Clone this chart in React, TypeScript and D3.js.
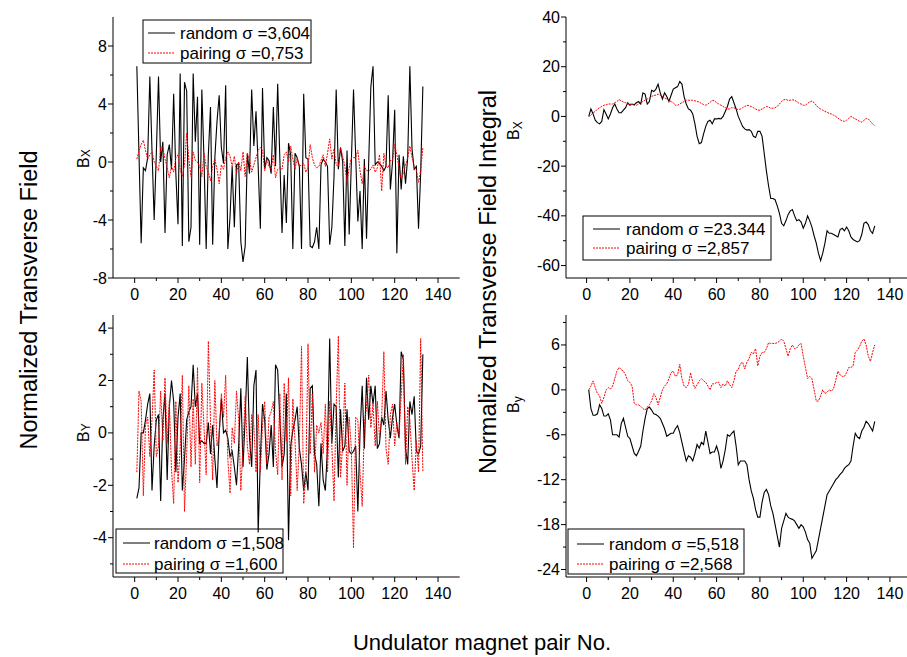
import React from "react";
import * as d3 from "d3";

const bxRandom = [6.6,0.5,-5.6,-0.4,-0.6,0.3,5.9,0.8,-4.0,0.6,
5.9,0.0,1.4,-4.9,0.5,1.2,-0.5,4.7,-0.8,-4.3,
6.1,-5.8,5.5,4.9,-5.5,-4.5,6.1,1.4,4.5,-5.7,
5.0,0.2,-6.0,0.5,3.8,-5.7,0.3,2.8,4.6,1.0,
-0.1,5.3,-6.0,-3.8,-0.3,-4.5,-0.2,-0.1,-5.5,-6.9,
-5.8,0.6,-0.8,5.0,1.1,3.5,-0.3,-4.6,5.1,-0.5,
0.3,0.1,-0.8,3.8,-0.3,5.4,0.2,-4.9,-0.9,-4.2,
1.3,0.5,-6.0,0.6,0.3,-0.3,-6.0,4.7,0.3,0.2,
-5.8,-5.9,-5.5,-4.5,-6.0,-0.2,0.2,0.0,-0.3,-5.7,
-4.5,-1.0,5.0,-0.5,1.0,0.0,-5.8,0.8,-5.0,0.0,
5.0,0.4,-4.1,-2.0,-6.0,0.2,-5.3,0.0,5.2,6.6,
-0.2,0.0,-0.1,-0.3,-0.6,-0.3,4.6,-1.9,0.0,3.6,
-6.3,0.5,-1.9,0.4,-1.5,0.3,6.6,0.9,-0.5,-0.3,
-4.6,-0.7,5.2];

const bxPairing = [0.2,0.8,1.2,1.5,0.8,0.2,0.5,0.7,0,-0.3,
-0.6,1.0,1.0,0.2,-0.4,-1.1,-0.3,-0.7,0.3,0.5,
-0.5,-1.0,-0.2,2.0,0.2,-1.0,0.7,0.1,0,-0.3,
-1.0,0.6,-0.3,-0.7,-1.3,-0.3,0.2,-0.5,-1.5,-0.2,
-0.5,0.3,0.7,0.4,-0.3,0.4,-0.8,0,-0.6,0.7,
-1.0,0.6,0.2,-0.7,-0.2,0.3,0.8,1.0,0.8,-0.6,
0.2,-0.3,-0.5,0.5,-1.1,-0.5,-0.4,-0.5,0.5,0.7,
0,1.1,0.2,-0.5,0.3,-0.3,-0.2,-0.1,-0.7,-0.4,
1.2,0.3,-0.2,-0.4,-0.3,0.1,0.5,-0.3,0.6,1.6,
0.2,0.9,-0.2,-0.3,1.0,0.4,-0.3,-1.4,-0.4,0.3,
0.3,0.3,0.8,-0.6,-1.5,-0.3,-0.6,-0.6,-0.5,-0.2,
-0.7,-0.4,0.5,-2.0,0.6,-0.3,-0.4,0.1,0.1,1.2,
0.5,-0.4,-1.2,-0.8,-0.2,0.3,1.1,0.3,-0.3,-0.6,
-1.4,-0.6,1.0];

const ixRandom = [0,3,1,-1.5,-2.5,-3,-2,2.7,1,-1,
1,3.5,5,3,1.5,1.5,2.5,3.5,5.5,4.5,
5,4.7,5.5,6,5,9.5,9,5,6,10.5,
10,11,13,9.5,7,9.5,8,6,8.5,11,
11.5,12,14,13,8,5,3,2.5,1,-3,
-8,-11,-10.5,-7,-4,-2,-1.5,-3,-1,-1,
-0.8,-1,0,2,4,7,8,5.5,3,0,
-2,-4,-5,-5.5,-5.3,-6,-8,-8.5,-6,-6,
-8,-15,-22,-28,-33,-33,-33.5,-36,-39,-43,
-44,-42,-39.5,-38,-37.5,-40,-42,-41.5,-42.5,-45,
-43,-40,-42,-44.5,-48,-51,-55,-58,-55,-51,
-46,-47,-47,-47.5,-48,-48.5,-45.5,-45,-46,-44.5,
-46,-48.5,-49.5,-50,-50.5,-50,-47.5,-43,-42.5,-43.5,
-46,-47,-44];

const ixPairing = [0,0.5,1.5,2,3,3.5,4,4.5,4.7,5,
5,5,5.5,6,6.8,6.2,5.8,5.5,5,5,
4.8,4.5,4.5,5,5.5,6,6.5,7,7.3,8,
8.5,8.5,9,8.5,8,7.5,7,6.5,6,5.5,
4.5,4.5,5,5.5,6,6.5,6.5,6.5,6.5,6.3,
6,5.8,5.2,4.8,4.5,5,5.7,6.5,6.3,5.5,
5,4.5,4,3.5,3,3,3.5,3.5,3,2.8,
3,3.5,4,4.5,4.3,4,3.5,3,2.5,2.5,
3,3.5,4,3.8,3.3,3.3,3.5,4,5,6,
6.7,6.8,6.5,6.5,6.7,6.5,6,5.3,5,4.5,
4.5,5.3,5.8,6.2,5.5,4.5,3.5,3,2.5,2,
1.7,1.2,1,0.5,0,-0.7,-1.3,-1.8,-2,-1.5,
-0.8,0,-0.5,-1,-1.5,-2,-2.3,-1.6,-0.8,-1,
-2,-3,-3.8];

const byRandom = [-2.5,-2.1,0,0,0.5,1.1,1.5,-2.2,-0.5,0.5,
0.7,-2.6,0.5,1.5,-1.8,1.0,2.0,1.2,-1.5,0.6,
1.5,-2.2,-1.0,0.5,0.8,1.0,2.6,1.0,1.5,-0.4,
-0.3,-0.4,-0.4,0.4,-0.8,0.3,-1.0,-2.1,0,1.3,
0,0.1,-0.2,-0.9,-0.7,-1.3,-2.0,-0.5,1.7,-1.3,
0.6,2.9,-0.2,-1.3,1.8,2.4,-3.8,-1.0,1.1,0.5,
-1.4,-0.8,0.3,-1.3,2.6,2.4,0.5,-1.3,-0.8,1.5,
-4.1,-0.5,0.1,0.5,1.0,-0.6,-1.2,-2.2,-1.5,-2.2,
1.7,1.8,-0.8,-1.2,-2.8,-0.4,-1.8,-2.2,-0.5,3.6,
-0.4,1.1,1.0,-1.7,0.9,-0.7,-0.5,0.9,-0.7,-0.8,
-0.7,-0.5,-3.0,0,1.8,-0.6,2.1,0.5,1.8,1.1,
1.8,-0.6,-0.4,0.6,0.3,1.6,0.5,-0.2,0.6,1.1,
0.3,-0.2,3.1,2.8,-0.6,-1.2,1.2,0.7,1.4,-0.7,
-0.8,-0.5,3.0];

const byPairing = [-1.5,1.6,1.2,-2.4,0.3,0.6,-0.9,0.5,2.4,-0.9,
-0.5,1.6,-0.3,2.1,-0.4,1.2,-1.4,-2.7,1.2,-1.9,
-0.6,2.2,-3.0,-0.8,1.8,-1.3,1.3,-1.2,2.5,-1.9,
1.9,0.2,-1.6,3.5,0.4,-1.8,2.0,-0.5,-0.1,1.5,
0.6,2.2,-1.0,-2.3,0.2,-0.4,1.6,0.5,-2.2,-0.5,
1.4,-0.5,-1.2,0.7,0.3,-1.5,0.7,-1.5,0.3,1.2,
-1.2,0.6,0.8,1.2,-0.7,-1.6,1.5,-1.8,1.9,-0.3,
2.1,-2.4,1.3,-0.3,-2.2,-0.4,3.3,-2.7,-1.6,3.4,
-0.8,1.5,-1.5,0.3,0,0.4,-0.8,1.1,-1.5,1.2,
-0.5,-2.6,1.0,3.7,-1.7,-0.4,1.9,-2.0,0.6,-0.6,
-4.4,0.6,0.5,-1.5,-2.8,0.3,1.0,2.2,0.2,1.1,
-0.5,1.2,-0.2,0.6,3.1,-0.6,-1.2,0.7,1.1,-0.5,
0.4,-0.1,1.4,3.0,-1.2,1.0,0.5,-1.0,-2.2,-0.3,
-1.5,3.6,-1.5];

const iyRandom = [0,-2.5,-3.4,-3.4,-3.2,-2.0,-2.5,-3.5,-3.5,-3.2,
-4.0,-6.0,-6.0,-6.0,-6.3,-4.5,-3.8,-5.0,-6.2,-6.5,
-7.5,-8.5,-8.8,-8.2,-7.5,-5.5,-3.8,-2.5,-2.3,-2.7,
-3.2,-3.3,-3.5,-3.8,-4.5,-5.2,-6.2,-6.0,-5.8,-5.8,
-5.2,-4.8,-5.7,-7.0,-8.3,-9.5,-8.8,-9.0,-9.5,-8.5,
-7.3,-7.8,-7.0,-7.3,-5.5,-7.0,-8.5,-8.3,-8.3,-7.5,
-8.5,-10.5,-9.5,-8.0,-6.0,-6.2,-5.8,-5.5,-7.5,-10.0,
-9.5,-9.5,-9.5,-10.0,-12.0,-13.5,-14.5,-16.0,-17.0,-17.0,
-15.0,-13.7,-13.3,-14.0,-15.5,-16.5,-18.0,-19.5,-21.0,-18.5,
-17.5,-16.5,-17.0,-17.2,-17.3,-17.5,-18.0,-18.5,-18.0,-18.3,
-19.0,-20.0,-20.5,-22.5,-22.0,-21.5,-20.0,-18.5,-17.0,-15.5,
-14.0,-13.5,-13.0,-12.5,-12.0,-11.7,-11.3,-11.0,-10.5,-10.2,
-10.0,-9.5,-7.5,-5.8,-6.3,-6.5,-5.5,-5.0,-4.2,-4.5,
-5.0,-5.5,-4.2];

const iyPairing = [0,0.5,1.2,0.3,-0.5,-0.8,-1.8,-1.0,0,0.3,
0.1,0.5,1.5,2.5,3.0,2.7,2.5,2.0,1.2,1.0,
0.5,-1.8,-2.0,-2.0,-2.2,-2.5,-2.7,-2.3,-2.0,-1.5,
-0.5,-1.0,-2.0,-1.0,0,0.5,0.8,1.5,2.3,2.5,
1.8,2.0,3.4,1.5,0.5,0.3,0.7,2.3,1.0,0.2,
0.7,1.2,1.5,1.2,1.0,0.5,0,0.8,0.8,1.0,
1.0,0.3,0.8,0.5,1.2,0.7,0.3,1.2,2.5,2.7,
3.5,3.7,2.8,3.7,4.2,5.0,4.8,5.5,3.2,4.5,
5.0,5.0,5.5,6.3,6.2,6.2,6.2,6.3,6.5,6.8,
6.5,5.5,4.5,5.5,6.0,5.5,5.6,6.0,6.2,4.5,
3.0,1.5,1.8,1.5,0,-1.5,-1.5,-0.8,0,-0.5,
-0.3,0,-0.2,0.2,1.3,2.5,2.0,1.8,1.8,2.3,
3.0,3.0,3.2,5.0,5.3,5.8,6.5,6.8,6.0,4.5,
3.8,5.0,6.0];

const xMajorTicks = [0, 20, 40, 60, 80, 100, 120, 140];
const xMinorTicks = [10, 30, 50, 70, 90, 110, 130];

const legendTexts = {
  tl: ["random \u03c3 =3,604", "pairing \u03c3 =0,753"],
  tr: ["random \u03c3 =23.344", "pairing \u03c3 =2,857"],
  bl: ["random \u03c3 =1,508", "pairing \u03c3 =1,600"],
  br: ["random \u03c3 =5,518", "pairing \u03c3 =2,568"],
};

const FONT = "'Liberation Sans', Arial, Helvetica, sans-serif";

type PanelProps = {
  x0: number; x1: number; xDomain: [number, number];
  top: number; bottom: number; yDomain: [number, number];
  yMajor: number[]; yMinor: number[];
  random: number[]; pairing: number[];
  legend: { x: number; y: number; w: number; h: number; r1: number; r2: number; s: number; t: number; texts: string[] };
  yLab: { x: number; y: number; sub: string; dy: number };
};

function Panel(p: PanelProps) {
  const xs = d3.scaleLinear().domain(p.xDomain).range([p.x0, p.x1]);
  const ys = d3.scaleLinear().domain(p.yDomain).range([p.bottom, p.top]);
  const line = d3.line<number>().x((_, i) => xs(i + 1)).y((d) => ys(d));
  const L = p.legend;
  return (
    <g>
      <path d={line(p.random) || ""} fill="none" stroke="#000" strokeWidth={1.1} />
      <path d={line(p.pairing) || ""} fill="none" stroke="#ff0000" strokeWidth={1} strokeDasharray="2,1" />
      <line x1={p.x0} x2={p.x1} y1={p.bottom} y2={p.bottom} stroke="#000" strokeWidth={1} />
      <line x1={p.x0} x2={p.x0} y1={p.top} y2={p.bottom} stroke="#000" strokeWidth={1} />
      {xMajorTicks.map((t) => (
        <g key={"xm" + t}>
          <line x1={xs(t)} x2={xs(t)} y1={p.bottom} y2={p.bottom + 5} stroke="#000" />
          <text x={xs(t)} y={p.bottom + 22} fontSize={16} textAnchor="middle" fontFamily={FONT}>{t}</text>
        </g>
      ))}
      {xMinorTicks.map((t) => (
        <line key={"xn" + t} x1={xs(t)} x2={xs(t)} y1={p.bottom} y2={p.bottom + 3} stroke="#000" />
      ))}
      {p.yMajor.map((t) => (
        <g key={"ym" + t}>
          <line x1={p.x0 - 5} x2={p.x0} y1={ys(t)} y2={ys(t)} stroke="#000" />
          <text x={p.x0 - 6} y={ys(t) + 5.5} fontSize={16} textAnchor="end" fontFamily={FONT}>{t}</text>
        </g>
      ))}
      {p.yMinor.map((t) => (
        <line key={"yn" + t} x1={p.x0 - 3} x2={p.x0} y1={ys(t)} y2={ys(t)} stroke="#000" />
      ))}
      <rect x={L.x} y={L.y} width={L.w} height={L.h} fill="none" stroke="#000" strokeWidth={1} />
      <line x1={L.x + L.s} x2={L.x + L.s + 27} y1={L.y + L.r1} y2={L.y + L.r1} stroke="#000" strokeWidth={1} />
      <line x1={L.x + L.s} x2={L.x + L.s + 27} y1={L.y + L.r2} y2={L.y + L.r2} stroke="#ff0000" strokeWidth={1} strokeDasharray="2,1" />
      <text x={L.x + L.t} y={L.y + L.r1 + 6} fontSize={17} fontFamily={FONT}>{L.texts[0]}</text>
      <text x={L.x + L.t} y={L.y + L.r2 + 6} fontSize={17} fontFamily={FONT}>{L.texts[1]}</text>
      <text transform={`translate(${p.yLab.x},${p.yLab.y}) rotate(-90)`} fontSize={16} fontFamily={FONT}>
        B<tspan fontSize={12} dy={p.yLab.dy}>{p.yLab.sub}</tspan>
      </text>
    </g>
  );
}

export default function App() {
  const leftX = { x0: 113, x1: 459.7, xDomain: [-10, 150] as [number, number] };
  const rightX = { x0: 566, x1: 911.6, xDomain: [-9.5, 150] as [number, number] };
  return (
    <svg width={907} height={657} style={{ position: "absolute", left: 0, top: 0, background: "#fff" }}>
      <rect x={0} y={0} width={907} height={657} fill="#fff" />
      <Panel {...leftX} top={17} bottom={278} yDomain={[-8, 10]}
        yMajor={[-8, -4, 0, 4, 8]} yMinor={[-6, -2, 2, 6]}
        random={bxRandom} pairing={bxPairing}
        legend={{ x: 143, y: 20, w: 168, h: 43, r1: 13, r2: 33, s: 5, t: 37, texts: legendTexts.tl }}
        yLab={{ x: 89, y: 168, sub: "X", dy: 1 }} />
      <Panel {...rightX} top={17} bottom={278} yDomain={[-65, 40]}
        yMajor={[-60, -40, -20, 0, 20, 40]} yMinor={[-50, -30, -10, 10, 30]}
        random={ixRandom} pairing={ixPairing}
        legend={{ x: 583, y: 216, w: 188, h: 44, r1: 13, r2: 32, s: 10, t: 43, texts: legendTexts.tr }}
        yLab={{ x: 519, y: 140, sub: "X", dy: 3 }} />
      <Panel {...leftX} top={315} bottom={577} yDomain={[-5.5, 4.5]}
        yMajor={[-4, -2, 0, 2, 4]} yMinor={[-5, -3, -1, 1, 3]}
        random={byRandom} pairing={byPairing}
        legend={{ x: 116, y: 529, w: 167, h: 44, r1: 14, r2: 35, s: 7, t: 38, texts: legendTexts.bl }}
        yLab={{ x: 89, y: 442, sub: "Y", dy: 1 }} />
      <Panel {...rightX} top={315} bottom={577} yDomain={[-25, 10]}
        yMajor={[-24, -18, -12, -6, 0, 6]} yMinor={[-21, -15, -9, -3, 3, 9]}
        random={iyRandom} pairing={iyPairing}
        legend={{ x: 568, y: 529, w: 176, h: 45, r1: 15, r2: 35, s: 9, t: 41, texts: legendTexts.br }}
        yLab={{ x: 519, y: 413, sub: "y", dy: 3 }} />
      <text transform="translate(37,300) rotate(-90)" textAnchor="middle" fontSize={23.5} fontFamily={FONT}>Normalized Transverse Field</text>
      <text transform="translate(496,282) rotate(-90)" textAnchor="middle" fontSize={23.5} fontFamily={FONT}>Normalized Transverse Field Integral</text>
      <text x={482} y={650} textAnchor="middle" fontSize={22} fontFamily={FONT}>Undulator magnet pair No.</text>
    </svg>
  );
}
